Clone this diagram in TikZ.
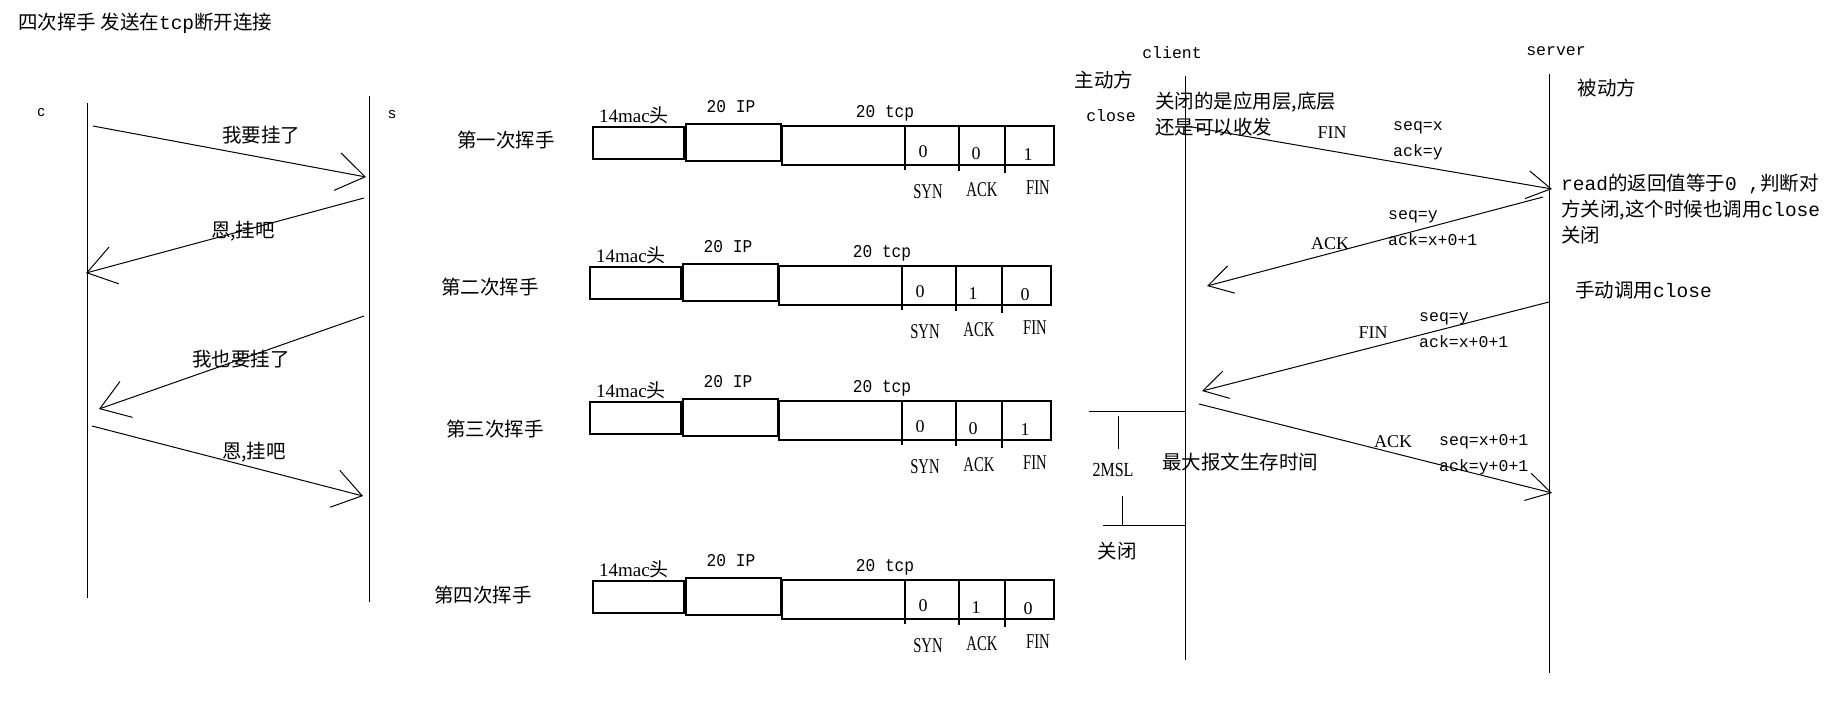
\documentclass[tikz,border=0pt]{standalone}
\usepackage{fontspec}
\setmainfont{Liberation Serif}
\newfontfamily\zh{Noto Sans CJK SC}
\newfontfamily\mono{Liberation Mono}
\newfontfamily\narrowmono[FakeStretch=0.9]{Liberation Mono}
\newfontfamily\narrow[FakeStretch=0.7]{Liberation Serif}
\newfontfamily\slim[FakeStretch=0.8]{Liberation Serif}
\newfontfamily\sans{Liberation Sans}
\usetikzlibrary{arrows.meta}

\tikzset{
  zhlabel/.style={font=\zh\fontsize{19.5}{26}\selectfont, inner sep=0pt},
  codelabel/.style={font=\mono\fontsize{16.5}{26}\selectfont, inner sep=0pt},
  seglabel/.style={font=\narrowmono\fontsize{18}{20}\selectfont, inner sep=0pt},
  flaglabel/.style={font=\narrow\fontsize{21}{24}\selectfont, inner sep=0pt},
  bitlabel/.style={font=\fontsize{18}{20}\selectfont, inner sep=0pt},
  msglabel/.style={font=\fontsize{18}{20}\selectfont, inner sep=0pt},
  lifeline/.style={line width=1pt},
  talk/.style={line width=1pt, -{Straight Barb[length=28pt,width=38pt]}},
  reply/.style={line width=1pt, -{Straight Barb[length=24pt,width=28pt]}},
  packet/.style={line width=1.3pt},
}

\begin{document}
\begin{tikzpicture}[x=1pt,y=-1pt]
  \useasboundingbox (0,0) rectangle (1827,715);

  % title
  \node[zhlabel, anchor=west] (title) at (18,23) {四次挥手 发送在{\mono tcp}断开连接};

  % left: c and s talking
  \node[font=\sans\fontsize{15}{17}\selectfont, inner sep=0pt] (c) at (41,113) {c};
  \node[font=\sans\fontsize{15}{17}\selectfont, inner sep=0pt] (s) at (392,115) {s};
  \coordinate (c-top) at (87,103);  \coordinate (c-bot) at (87,598);
  \coordinate (s-top) at (369,96);  \coordinate (s-bot) at (369,602);
  \draw[lifeline] (c-top) -- (c-bot);
  \draw[lifeline] (s-top) -- (s-bot);

  \coordinate (c1) at (93,126);  \coordinate (s1) at (366,177);
  \coordinate (s2) at (364,198); \coordinate (c2) at (86,273);
  \coordinate (s3) at (364,316); \coordinate (c3) at (99,409);
  \coordinate (c4) at (92,426);  \coordinate (s4) at (363,496);
  \draw[talk] (c1) -- (s1);
  \draw[talk] (s2) -- (c2);
  \draw[talk] (s3) -- (c3);
  \draw[talk] (c4) -- (s4);
  \node[zhlabel] (say1) at (261,135) {我要挂了};
  \node[zhlabel] (say2) at (243,231) {恩,挂吧};
  \node[zhlabel] (say3) at (241,359) {我也要挂了};
  \node[zhlabel] (say4) at (254,452) {恩,挂吧};

  % middle: the four segments
  \foreach \rowid/\px/\py/\vs/\va/\vf/\lx/\ly/\rowtext in
    {1/593/127/0/0/1/506/140/第一次挥手,
     2/590/267/0/1/0/490/287/第二次挥手,
     3/590/402/0/0/1/495/429/第三次挥手,
     4/593/581/0/1/0/483/595/第四次挥手}{
    \node[zhlabel] (wave\rowid) at (\lx,\ly) {\rowtext};
    \begin{scope}[shift={(\px,\py)}]
      \draw[packet] (0,0) rectangle (91,32);
      \draw[packet] (93,-3) rectangle (188,34);
      \draw[packet] (189,-1) rectangle (461,38);
      \draw[packet] (312,-1) -- (312,43) (366,-1) -- (366,44) (412,-1) -- (412,46);
      \node[font=\fontsize{19}{22}\selectfont, inner sep=0pt] (mac\rowid) at (41,-12) {14mac{\zh 头}};
      \node[seglabel] (ip\rowid) at (138,-20) {20 IP};
      \node[seglabel] (tcp\rowid) at (292,-14) {20 tcp};
      \node[bitlabel] (synv\rowid) at (330,25) {\vs};
      \node[bitlabel] (ackv\rowid) at (383,27) {\va};
      \node[bitlabel] (finv\rowid) at (435,28) {\vf};
      \node[flaglabel] (syn\rowid) at (335,65) {SYN};
      \node[flaglabel] (ack\rowid) at (389,63) {ACK};
      \node[flaglabel] (fin\rowid) at (445,61) {FIN};
    \end{scope}
  }

  % right: client and server
  \node[codelabel] (client) at (1172,53) {client};
  \node[codelabel] (server) at (1556,51) {server};
  \coordinate (cl-top) at (1185,76);  \coordinate (cl-bot) at (1185,660);
  \coordinate (sv-top) at (1549,74);  \coordinate (sv-bot) at (1549,673);
  \draw[lifeline] (cl-top) -- (cl-bot);
  \draw[lifeline] (sv-top) -- (sv-bot);

  \node[zhlabel] (active) at (1104,80) {主动方};
  \node[codelabel] (close) at (1111,116) {close};
  \node[zhlabel, align=left, anchor=west] (note1) at (1155,114) {关闭的是应用层,底层\\还是可以收发};
  \node[zhlabel] (passive) at (1607,88) {被动方};
  \node[zhlabel, align=left, anchor=west] (note2) at (1561,209)
    {{\mono read}的返回值等于{\mono 0 ,}判断对\\方关闭,这个时候也调用{\mono close}\\关闭};
  \node[zhlabel, anchor=west] (note3) at (1575,290) {手动调用{\mono close}};

  \coordinate (k1) at (1186,126); \coordinate (v1) at (1552,189);
  \coordinate (v2) at (1543,197); \coordinate (k2) at (1207,286);
  \coordinate (v3) at (1549,302); \coordinate (k3) at (1202,391);
  \coordinate (k4) at (1199,404); \coordinate (v4) at (1552,493);
  \draw[reply] (k1) -- (v1);
  \draw[reply] (v2) -- (k2);
  \draw[reply] (v3) -- (k3);
  \draw[reply] (k4) -- (v4);

  \node[msglabel] (fin-a) at (1332,133) {FIN};
  \node[msglabel] (ack-a) at (1330,244) {ACK};
  \node[msglabel] (fin-b) at (1373,333) {FIN};
  \node[msglabel] (ack-b) at (1393,442) {ACK};
  \node[codelabel, align=left, anchor=west] (num1) at (1393,141) {seq=x\\ack=y};
  \node[codelabel, align=left, anchor=west] (num2) at (1388,228) {seq=y\\ack=x+0+1};
  \node[codelabel, align=left, anchor=west] (num3) at (1419,330) {seq=y\\ack=x+0+1};
  \node[codelabel, align=left, anchor=west] (num4) at (1439,455) {seq=x+0+1\\ack=y+0+1};

  % 2MSL wait
  \node[font=\slim\fontsize{20}{22}\selectfont, inner sep=0pt] (msl) at (1113,470) {2MSL};
  \node[zhlabel] (msltext) at (1240,462) {最大报文生存时间};
  \node[zhlabel] (closed) at (1117,551) {关闭};
  \coordinate (wait-a) at (1089,411); \coordinate (wait-b) at (1185,411);
  \coordinate (wait-c) at (1103,525); \coordinate (wait-d) at (1185,525);
  \coordinate (tick-a) at (1118,416); \coordinate (tick-b) at (1118,449);
  \coordinate (tick-c) at (1122,496); \coordinate (tick-d) at (1122,526);
  \draw[lifeline] (wait-a) -- (wait-b);
  \draw[lifeline] (wait-c) -- (wait-d);
  \draw[lifeline] (tick-a) -- (tick-b);
  \draw[lifeline] (tick-c) -- (tick-d);
\end{tikzpicture}
\end{document}
